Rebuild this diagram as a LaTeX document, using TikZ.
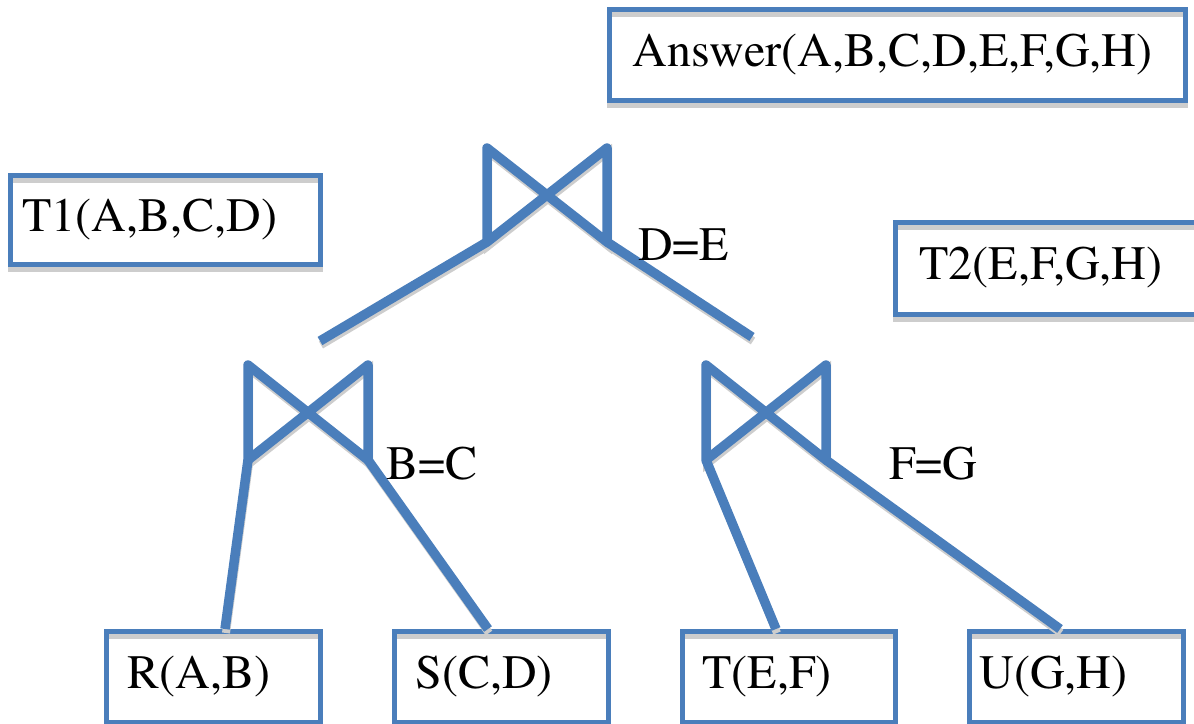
\documentclass[tikz,border=0pt]{standalone}
\usepackage[T1]{fontenc}
\usepackage{mathptmx}
\definecolor{boxblue}{HTML}{4A7EBB}
\definecolor{shade}{HTML}{CDCDCD}
\tikzset{
  box/.style={draw=boxblue, line width=5pt, anchor=north west, align=left,
    font=\rmfamily\fontsize{48}{56}\selectfont, inner ysep=0pt, text depth=12pt, text height=34pt,
    preaction={draw=shade, line width=5pt, transform canvas={yshift=-5pt}}},
  lbl/.style={font=\rmfamily\fontsize{48}{56}\selectfont, inner sep=0pt, anchor=west},
  joinline/.style={draw=boxblue, line width=9.5pt, line join=round, line cap=butt,
    preaction={draw=shade, line width=8pt, transform canvas={xshift=1pt, yshift=-4pt}}},
}
\begin{document}
\begin{tikzpicture}[x=1pt,y=-1pt]
\useasboundingbox (0,0) rectangle (1194,723);
% boxes
\node[box, minimum width=576pt, minimum height=91pt, inner xsep=23pt, text width=530pt] (ans) at (607,7) {Answer(A,B,C,D,E,F,G,H)};
\node[box, minimum width=310pt, minimum height=89pt, inner xsep=12pt, text width=286pt] (t1) at (8,173) {T1(A,B,C,D)};
\node[box, minimum width=350pt, minimum height=92pt, inner xsep=24pt, text width=302pt] (t2) at (893,220) {T2(E,F,G,H)};
\node[box, minimum width=214pt, minimum height=91pt, inner xsep=21pt, text width=172pt] (r) at (104,629) {R(A,B)};
\node[box, minimum width=214pt, minimum height=91pt, inner xsep=21pt, text width=172pt] (s) at (392,629) {S(C,D)};
\node[box, minimum width=213pt, minimum height=91pt, inner xsep=20pt, text width=173pt] (t) at (680,629) {T(E,F)};
\node[box, minimum width=214pt, minimum height=91pt, inner xsep=10pt, text width=194pt] (u) at (967,629) {U(G,H)};
% join points
\coordinate (tl) at (487,242); \coordinate (tr) at (607,242);
\coordinate (tl2) at (487,148); \coordinate (tr2) at (607,148);
\coordinate (ll) at (248,460); \coordinate (lr) at (368,460);
\coordinate (ll2) at (248,365); \coordinate (lr2) at (368,365);
\coordinate (rl) at (706,460); \coordinate (rr) at (826,460);
\coordinate (rl2) at (706,365); \coordinate (rr2) at (826,365);
\coordinate (endL) at (320,341); \coordinate (endR) at (752,337);
\coordinate (rIn) at (225,629); \coordinate (sIn) at (488,629);
\coordinate (tIn) at (776,629); \coordinate (uIn) at (1060,629);
% bowties
\path[joinline] (tl) -- (tl2) -- (tr) -- (tr2) -- (tl) -- cycle;
\path[joinline] (ll) -- (ll2) -- (lr) -- (lr2) -- (ll) -- cycle;
\path[joinline] (rl) -- (rl2) -- (rr) -- (rr2) -- (rl) -- cycle;
% connectors
\path[joinline] (endL) -- (tl);
\path[joinline] (tr) -- (endR);
\path[joinline] (ll) -- (rIn);
\path[joinline] (lr) -- (sIn);
\path[joinline] (rl) -- (tIn);
\path[joinline] (rr) -- (uIn);
% labels
\node[lbl] (de) at (638,245) {D=E};
\node[lbl] (bc) at (386,463) {B=C};
\node[lbl] (fg) at (889,463) {F=G};
\end{tikzpicture}
\end{document}
